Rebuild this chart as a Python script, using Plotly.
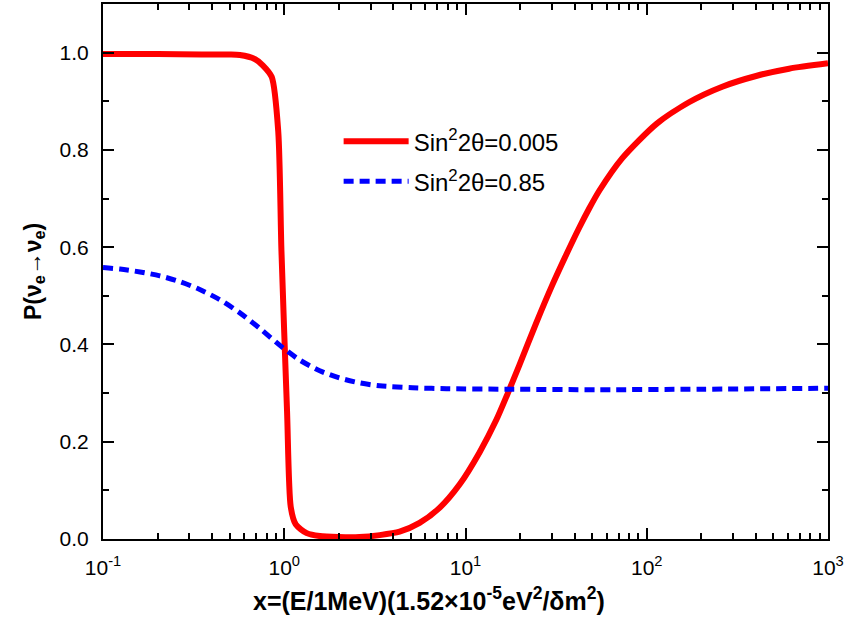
import plotly.graph_objects as go

# ---- data ----
red_name = "Sin<sup>2</sup>2θ=0.005"
red_x = [0.1, 0.2, 0.35, 0.5, 0.569, 0.687, 0.761, 0.853, 0.927, 0.965, 1.036, 1.086,
         1.157, 1.33, 1.57, 2.0, 2.6, 3.36, 4.33, 5.58, 7.19, 9.27, 11.95, 14.8, 17.0,
         19.8, 24.6, 30.1, 36.0, 42.4, 48.2, 54.7, 73.3, 112.8, 171, 261, 401, 610, 1000]
red_y = [0.997, 0.997, 0.996, 0.996, 0.995, 0.987, 0.974, 0.95, 0.837, 0.592, 0.264, 0.066,
         0.03, 0.012, 0.006, 0.004, 0.004, 0.008, 0.015, 0.033, 0.064, 0.112, 0.178, 0.245, 0.297,
         0.357, 0.445, 0.522, 0.585, 0.640, 0.680, 0.716, 0.783, 0.853, 0.898, 0.930, 0.952, 0.967, 0.978]

blue_name = "Sin<sup>2</sup>2θ=0.85"
blue_x = [0.1, 0.124, 0.16, 0.206, 0.266, 0.342, 0.441, 0.569, 0.733, 0.969, 1.217, 1.57,
          2.02, 2.61, 3.36, 5.1, 7.86, 16.8, 54.7, 200, 1000]
blue_y = [0.558, 0.555, 0.549, 0.541, 0.529, 0.513, 0.492, 0.465, 0.433, 0.395, 0.368, 0.346,
          0.331, 0.321, 0.315, 0.311, 0.309, 0.308, 0.307, 0.308, 0.31]

x_tickvals = [0.1, 1, 10, 100, 1000]
x_ticktext = ["10<sup>-1</sup>", "10<sup>0</sup>", "10<sup>1</sup>", "10<sup>2</sup>", "10<sup>3</sup>"]
x_minor = [m * d for d in [0.1, 1, 10, 100] for m in range(2, 10)]
y_tickvals = [0.0, 0.2, 0.4, 0.6, 0.8, 1.0]
y_ticktext = ["0.0", "0.2", "0.4", "0.6", "0.8", "1.0"]
y_minor = [0.1, 0.3, 0.5, 0.7, 0.9]

x_title = "<b>x=(E/1MeV)(1.52×10<sup>-5</sup>eV<sup>2</sup>/δm<sup>2</sup>)</b>"
y_title = "<b>P(ν<sub>e</sub>→ν<sub>e</sub>)</b>"

FONT = "Liberation Sans, Arial"

fig = go.Figure()
fig.add_trace(go.Scatter(x=red_x, y=red_y, mode="lines", name=red_name, legendgroup="a",
                         line=dict(color="#FF0000", width=6, shape="spline", smoothing=0.7)))
fig.add_trace(go.Scatter(x=blue_x, y=blue_y, mode="lines", name=blue_name, legendgroup="b",
                         line=dict(color="#0000FF", width=5, dash="10px,6px",
                                   shape="spline", smoothing=0.8)))

axis_common = dict(showline=True, linecolor="black", linewidth=2, mirror="allticks",
                   ticks="inside", tickcolor="black", tickwidth=2, ticklen=11,
                   showgrid=False, zeroline=False,
                   tickfont=dict(family=FONT, size=21, color="black"))

fig.update_xaxes(type="log", range=[-1, 3], tickmode="array", tickvals=x_tickvals,
                 ticktext=x_ticktext, ticklabelstandoff=9,
                 minor=dict(tickmode="array", tickvals=x_minor, ticks="inside",
                            ticklen=6, tickwidth=2, tickcolor="black"),
                 **axis_common)
fig.update_yaxes(range=[0, 1.1], tickmode="array", tickvals=y_tickvals, ticktext=y_ticktext,
                 ticklabelstandoff=8,
                 minor=dict(tickmode="array", tickvals=y_minor, ticks="inside",
                            ticklen=6, tickwidth=2, tickcolor="black"),
                 title=dict(text=y_title, font=dict(family=FONT, size=23, color="black"),
                            standoff=12),
                 **axis_common)

fig.add_annotation(text=x_title, xref="paper", yref="paper", x=0.450, y=-0.112,
                   xanchor="center", yanchor="middle", showarrow=False,
                   font=dict(family=FONT, size=25, color="black"))

fig.update_layout(
    width=846, height=625,
    margin=dict(l=103, r=17, t=2, b=86),
    paper_bgcolor="white", plot_bgcolor="white",
    showlegend=True,
    legend=dict(x=0.325, y=0.785, xanchor="left", yanchor="top", bgcolor="rgba(0,0,0,0)",
                font=dict(family=FONT, size=24, color="black"),
                itemwidth=65, tracegroupgap=6),
)

fig.write_html("out.html")
